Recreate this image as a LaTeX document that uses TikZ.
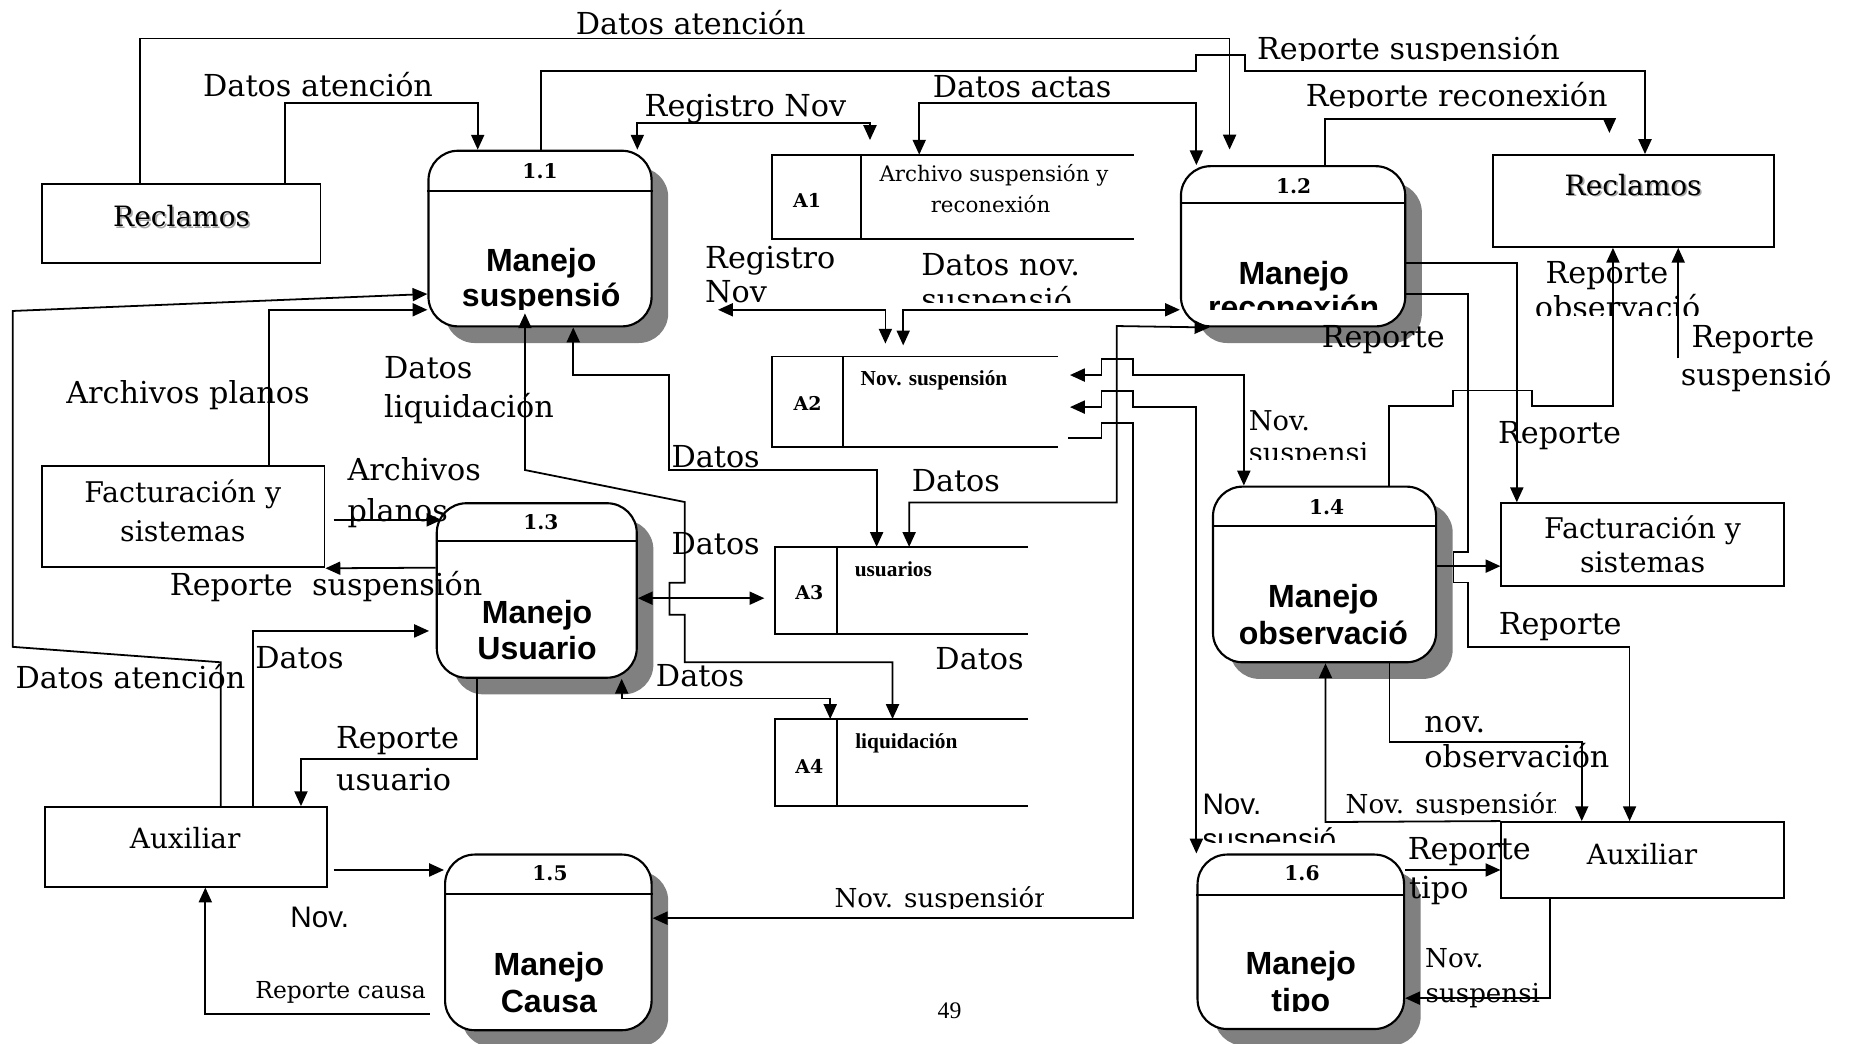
\documentclass[tikz,border=0pt]{standalone}
\usepackage{fontspec}
\setmainfont{DejaVu Serif}
\newfontfamily\tnr{Liberation Serif}
\newfontfamily\ari{Liberation Sans}
\usetikzlibrary{arrows.meta,shadows}

\begin{document}
\begin{tikzpicture}[x=1pt,y=-1pt,
  >={Triangle[length=12.5pt,width=11pt]},
  fl/.style={line width=1.5pt,->},
  bfl/.style={line width=1.5pt,<->},
  proc/.style={draw,line width=1.8pt,rounded corners=25pt,fill=white,inner sep=0pt,
    drop shadow={shadow xshift=14pt,shadow yshift=-14pt,opacity=1,fill=black!50}},
  hdr/.style={line width=1.6pt},
  ext/.style={draw,line width=1.6pt,inner sep=0pt},
  storebox/.style={inner sep=0pt},
  storeline/.style={line width=1.6pt},
  lb/.style={font=\fontsize{25.5}{30}\selectfont,inner sep=0pt,anchor=base west},
  lbn/.style={font=\fontsize{23}{27}\selectfont,inner sep=0pt,anchor=base west},
  lbs/.style={font=\fontsize{22}{26}\selectfont,inner sep=0pt,anchor=base west},
  lar/.style={font=\ari\fontsize{25}{29}\selectfont,inner sep=0pt,anchor=base west},
  ttl/.style={font=\ari\bfseries\fontsize{27}{31}\selectfont,inner sep=0pt,anchor=base},
  num/.style={font=\bfseries\fontsize{17}{20}\selectfont,inner sep=0pt},
  sid/.style={font=\bfseries\fontsize{16}{19}\selectfont,inner sep=0pt},
  sname/.style={font=\tnr\bfseries\fontsize{18}{21}\selectfont,inner sep=0pt,anchor=base west},
  etx/.style={font=\fontsize{24}{28}\selectfont,inner sep=0pt,anchor=base},
]
\useasboundingbox (0,0) rectangle (1568,879);
\fill[white] (0,0) rectangle (1568,879);

% ---------- processes ----------
\node[proc,minimum width=188pt,minimum height=148pt] (p11) at (455,201) {};
\node[proc,minimum width=189pt,minimum height=135pt] (p12) at (1089.5,207.5) {};
\node[proc,minimum width=168.5pt,minimum height=147pt] (p13) at (452.25,497.5) {};
\node[proc,minimum width=188pt,minimum height=148pt] (p14) at (1116,484) {};
\node[proc,minimum width=174pt,minimum height=148pt] (p15) at (462,794) {};
\node[proc,minimum width=174pt,minimum height=147pt] (p16) at (1096,793.5) {};
\draw[hdr] (p11.west |- 0,161) -- (p11.east |- 0,161);
\draw[hdr] (p12.west |- 0,171) -- (p12.east |- 0,171);
\draw[hdr] (p13.west |- 0,456) -- (p13.east |- 0,456);
\draw[hdr] (p14.west |- 0,443) -- (p14.east |- 0,443);
\draw[hdr] (p15.west |- 0,753) -- (p15.east |- 0,753);
\draw[hdr] (p16.west |- 0,754) -- (p16.east |- 0,754);

% ---------- external entities ----------
\node[ext,minimum width=234.3pt,minimum height=66.1pt] (recL) at (152.85,188.35) {};
\node[ext,minimum width=237.7pt,minimum height=85pt] (facL) at (154.55,435.5) {};
\node[ext,minimum width=238.1pt,minimum height=67pt] (auxL) at (156.65,713.5) {};
\node[ext,minimum width=236.5pt,minimum height=77.4pt] (recR) at (1376.25,169.3) {};
\node[ext,minimum width=238pt,minimum height=70pt] (facR) at (1384,459) {};
\node[ext,minimum width=238pt,minimum height=64pt] (auxR) at (1384,724.6) {};

% ---------- data stores ----------
\node[storebox,minimum width=304pt,minimum height=70.5pt] (a1) at (803,165.75) {};
\node[storebox,minimum width=240pt,minimum height=75.9pt] (a2) at (771,338.55) {};
\node[storebox,minimum width=213pt,minimum height=73pt] (a3) at (759.5,497.5) {};
\node[storebox,minimum width=213pt,minimum height=73pt] (a4) at (759.5,642.5) {};
\foreach \s/\d in {a1/725.5,a2/710,a3/705,a4/705}{
  \draw[storeline] (\s.north east) -- (\s.north west) -- (\s.south west) -- (\s.south east);
  \draw[storeline] (\d,0 |- \s.north) -- (\d,0 |- \s.south);
}

% ---------- free ends ----------
\coordinate (e1) at (1036,126);
\coordinate (e4) at (733,118);
\coordinate (e6) at (1356,112);
\coordinate (e9a) at (281,438);
\coordinate (e9b) at (372,438);
\coordinate (e11) at (361.5,531.6);
\coordinate (e13) at (281,733);
\coordinate (e14) at (362,854.6);
\coordinate (e15) at (900,369);
\coordinate (e16) at (901.5,316);
\coordinate (e17) at (901.5,343);
\coordinate (e19) at (761,291);
\coordinate (e20a) at (605,261);
\coordinate (e20b) at (746,289.5);
\coordinate (e25) at (1414,302);
\coordinate (e30) at (442.3,264);
\coordinate (e32) at (644,504);

% ---------- flows ----------
\draw[fl] (118,0 |- recL.north) -- (118,32.4) -- (1036,32.4) -- (e1);
\draw[fl] (456,0 |- p11.north) -- (456,60) -- (1008,60) -- (1008,46.3) -- (1049,46.3) -- (1049,60) -- (1386,60) -- (1386,0 |- recR.north);
\draw[bfl] (774.5,0 |- a1.north) -- (774.5,86.5) -- (1008,86.5) -- (1008,0 |- p12.north);
\draw[bfl] (537,0 |- p11.north) -- (537,103.4) -- (733,103.4) -- (e4);
\draw[fl] (240,0 |- recL.north) -- (240,86.5) -- (402.5,86.5) -- (402.5,0 |- p11.north);
\draw[fl] (1116.5,0 |- p12.north) -- (1116.5,100) -- (1356,100) -- (e6);
\draw[fl] (186,0 |- auxL.north) -- (186,558) -- (10.7,545) -- (10.7,262) -- (p11.west |- 0,247.7);
\draw[fl] (226.4,0 |- facL.north) -- (226.4,261) -- (p11.west |- 0,261);
\draw[fl] (e9a) -- (e9b);
\draw[fl] (p13.west |- 0,478.3) -- (facL.south east);
\draw[fl] (213,0 |- auxL.north) -- (213,531.6) -- (e11);
\draw[fl] (402,0 |- p13.south) -- (402,639.5) -- (253.6,639.5) -- (253.6,0 |- auxL.north);
\draw[fl] (e13) -- (p15.west |- 0,733);
\draw[fl] (e14) -- (173,854.6) -- (173,0 |- auxL.south);
\draw[fl] (e15) -- (928,369) -- (928,356.4) -- (954.3,356.4) -- (954.3,773.6) -- (p15.east |- 0,773.6);
\draw[bfl] (e16) -- (928,316) -- (928,302.5) -- (954.3,302.5) -- (954.3,316) -- (1048,316) -- (1048,0 |- p14.north);
\draw[bfl] (e17) -- (928,343) -- (928,329.5) -- (954.3,329.5) -- (954.3,343) -- (1008,343) -- (1008,0 |- p16.north);
\draw[bfl] (766,0 |- a3.north) -- (766,423.3) -- (941,423.3) -- (941,274.7) -- (1019,0 |- p12.south);
\draw[bfl] (e19) -- (761,261) -- (p12.west |- 0,261);
\draw[bfl] (e20a) -- (746,261) -- (e20b);
\draw[fl] (p12.east |- 0,221.3) -- (1278,221.3) -- (1278,0 |- facR.north);
\draw[fl] (p12.east |- 0,248) -- (1237,248) -- (1237,464.8) -- (1224.7,464.8) -- (1224.7,490.7) -- (1237,490.7) -- (1237,545) -- (1373,545) -- (1373,0 |- auxR.north);
\draw[fl] (p14.east |- 0,477) -- (facR.west |- 0,477);
\draw[fl] (1170.4,0 |- p14.north) -- (1170.4,342) -- (1224.5,342) -- (1224.5,329) -- (1291,329) -- (1291,342) -- (1359,342) -- (1359,0 |- recR.south);
\draw[fl] (e25) -- (1414,0 |- recR.south);
\draw[fl] (1170.7,0 |- p14.south) -- (1170.7,625.3) -- (1332.7,625.3) -- (1332.7,0 |- auxR.north);
\draw[fl] (auxR.north west) -- (1116.8,692.6) -- (1116.8,0 |- p14.south);
\draw[fl] (p16.east |- 0,733) -- (auxR.west |- 0,733);
\draw[fl] (1306,0 |- auxR.south) -- (1306,841) -- (p16.east |- 0,841);
\draw[bfl] (e30) -- (442.3,396) -- (577,423) -- (577,491) -- (564,491) -- (564,518) -- (577,518) -- (577,558) -- (752,558) -- (752,0 |- a4.north);
\draw[bfl] (483,0 |- p11.south) -- (483,316) -- (563.4,316) -- (563.4,396) -- (738.6,396) -- (738.6,0 |- a3.north);
\draw[bfl] (p13.east |- 0,504) -- (e32);
\draw[bfl] (523.8,0 |- p13.south) -- (523.8,588.5) -- (699.5,588.5) -- (699.5,0 |- a4.north);

% ---------- process texts ----------
\node[num] (n11) at (455,144) {1.1};
\node[num] (n12) at (1090,157) {1.2};
\node[num] (n13) at (455.7,440) {1.3};
\node[num] (n14) at (1117.8,427) {1.4};
\node[num] (n15) at (463.4,736) {1.5};
\node[num] (n16) at (1097,736) {1.6};
\node[ttl] (p11a) at (456,229) {Manejo};
\begin{scope}\clip (0,0) rectangle (1568,260.5);
\node[ttl] (p11b) at (456,258.5) {suspensió};
\end{scope}
\node[ttl] (p12a) at (1090,240) {Manejo};
\begin{scope}\clip (0,0) rectangle (1568,261);
\node[ttl] (p12b) at (1090,268) {reconexión};
\end{scope}
\node[ttl] (p13a) at (452.5,525) {Manejo};
\node[ttl] (p13b) at (452.5,556) {Usuario};
\node[ttl] (p14a) at (1115,512) {Manejo};
\node[ttl] (p14b) at (1115,543) {observació};
\node[ttl] (p15a) at (462.5,822) {Manejo};
\node[ttl] (p15b) at (462.5,853) {Causa};
\node[ttl] (p16a) at (1096,821) {Manejo};
\begin{scope}\clip (0,0) rectangle (1568,852.5);
\node[ttl] (p16b) at (1096,852) {tipo};
\end{scope}

% ---------- store texts ----------
\node[sid] (a1id) at (680,168.5) {A1};
\node[sid] (a2id) at (680.4,340) {A2};
\node[sid] (a3id) at (682,499) {A3};
\node[sid] (a4id) at (682,646) {A4};
\node[font=\fontsize{18}{21}\selectfont,inner sep=0pt,anchor=base] (a1t1) at (837.5,152.5) {Archivo suspensión y};
\node[font=\fontsize{18}{21}\selectfont,inner sep=0pt,anchor=base] (a1t2) at (834.6,179) {reconexión};
\node[sname] (a2t) at (725,325) {Nov. suspensión};
\node[sname] (a3t) at (720,486) {usuarios};
\node[sname] (a4t) at (720.4,630.5) {liquidación};

% ---------- entity texts ----------
\node[etx,font=\fontsize{23.6}{28}\selectfont,text=black!35] (recLs) at (154.5,192.5) {Reclamos};
\node[etx,font=\fontsize{23.6}{28}\selectfont] (recLt) at (153,191) {Reclamos};
\node[etx,font=\fontsize{23.6}{28}\selectfont,text=black!35] (recRs) at (1377.5,165.8) {Reclamos};
\node[etx,font=\fontsize{23.6}{28}\selectfont] (recRt) at (1376,164.3) {Reclamos};
\node[etx] (facLt1) at (154,423.5) {Facturación y};
\node[etx] (facLt2) at (154,456.4) {sistemas};
\node[etx] (facRt1) at (1384,454) {Facturación y};
\node[etx] (facRt2) at (1384,482) {sistemas};
\node[etx,font=\fontsize{23.5}{28}\selectfont] (auxLt) at (156,714.6) {Auxiliar};
\node[etx,font=\fontsize{23.5}{28}\selectfont] (auxRt) at (1383.5,728) {Auxiliar};

% ---------- flow labels ----------
\node[lb] (t1) at (485,28.7) {Datos atención};
\begin{scope}\clip (0,0) rectangle (1568,51);
\node[lb] (t2) at (1059,50) {Reporte suspensión};
\end{scope}
\node[lb] (t3) at (171,81.5) {Datos atención};
\node[lb] (t4) at (785.8,82) {Datos actas};
\node[lb] (t5) at (543,98.5) {Registro Nov};
\begin{scope}\clip (0,0) rectangle (1568,90.5);
\node[lb] (t6) at (1100,89.5) {Reporte reconexión};
\end{scope}
\node[lb] (t7a) at (594,226) {Registro};
\node[lb] (t7b) at (594,255) {Nov};
\node[lb] (t8a) at (776,232) {Datos nov.};
\begin{scope}\clip (0,0) rectangle (1568,254.5);
\node[lb] (t8b) at (776,262) {suspensió};
\end{scope}
\node[lb] (t9a) at (1302,239) {Reporte};
\begin{scope}\clip (0,0) rectangle (1568,265.5);
\node[lb] (t9b) at (1293,268) {observació};
\end{scope}
\node[lb] (t10) at (1113.6,293) {Reporte};
\node[lb] (t11a) at (1425,293) {Reporte};
\node[lb] (t11b) at (1416,325) {suspensió};
\node[lb] (t12a) at (323.5,319) {Datos};
\node[lb] (t12b) at (323.5,352) {liquidación};
\node[lb] (t13) at (55.7,340) {Archivos planos};
\node[lbn] (t14a) at (1052,363) {Nov.};
\begin{scope}\clip (0,0) rectangle (1568,387.5);
\node[lbn] (t14b) at (1052,390) {suspensi};
\end{scope}
\node[lb] (t15) at (1262,373.6) {Reporte};
\node[lb] (t16) at (565.6,394) {Datos};
\node[lb] (t17a) at (292.6,405) {Archivos};
\node[lb] (t17b) at (292.6,439) {planos};
\node[lb] (t18) at (768,414) {Datos};
\node[lb] (t19) at (565.6,467) {Datos};
\node[lb] (t20) at (143,502) {Reporte\ \ suspensión};
\node[lb] (t21) at (1262.6,535) {Reporte};
\node[lb] (t22) at (215,563) {Datos};
\node[lb] (t23) at (788,564) {Datos};
\node[lb] (t24) at (13,580.5) {Datos atención};
\node[lb] (t25) at (552.5,578) {Datos};
\node[lb] (t26a) at (1200,617) {nov.};
\node[lb] (t26b) at (1200,646.5) {observación};
\node[lb] (t27a) at (283,631) {Reporte};
\node[lb] (t27b) at (283,666) {usuario};
\node[lar] (t28a) at (1013,686) {Nov.};
\begin{scope}\clip (0,0) rectangle (1568,710);
\node[lar] (t28b) at (1013,716) {suspensió};
\end{scope}
\begin{scope}\clip (0,0) rectangle (1311,686);
\node[lbs] (t29) at (1133.6,685) {Nov. suspensión};
\end{scope}
\node[lb] (t30a) at (1186,724) {Reporte};
\node[lb] (t30b) at (1187,757) {tipo};
\node[lar] (t31) at (244.5,781.5) {Nov.};
\begin{scope}\clip (0,0) rectangle (879,765.5);
\node[lbs] (t32) at (703,765) {Nov. suspensión};
\end{scope}
\node[lbs] (t33a) at (1200.6,815) {Nov.};
\node[lbs] (t33b) at (1201,845) {suspensi};
\node[font=\fontsize{19.7}{23}\selectfont,inner sep=0pt,anchor=base west] (t34) at (215,841) {Reporte causa};
\node[font=\tnr\fontsize{20}{24}\selectfont,inner sep=0pt,anchor=base] (t35) at (800,858) {49};
\end{tikzpicture}
\end{document}
